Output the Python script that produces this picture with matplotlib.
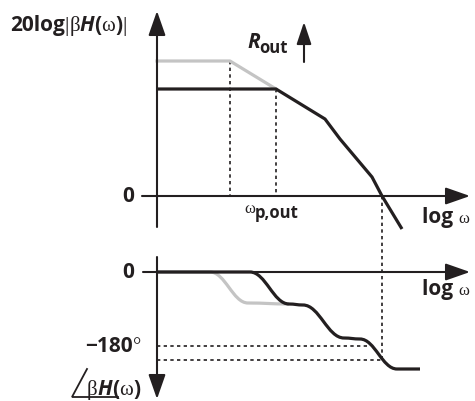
import matplotlib
matplotlib.use("Agg")
import matplotlib.pyplot as plt
from matplotlib.path import Path
from matplotlib.patches import PathPatch
from matplotlib.font_manager import FontProperties

INK = "#231f20"
GRAY = "#c4c4c4"

# schematic drawn in pixel units (y grows downward)
# magnitude plot
mag_x = [157, 276, 325, 340, 372, 382, 402]
mag_y = [90, 90, 120, 140, 178, 197, 230]
mag_gray_x = [157, 230, 276]
mag_gray_y = [62, 62, 90]

# phase plot knots, joined by smooth S-shaped steps
phase_x = [157, 250, 289, 303, 344, 360, 397, 420]
phase_y = [273, 273, 305, 306, 339, 340, 370, 370]
phase_gray_x = [157, 210, 248, 289]
phase_gray_y = [273, 273, 304, 305]

axis_x = 157
mag_zero = 197
ph_zero = 273
ph_180 = 347
ph_cross = 361


def s_curve(xs, ys, k=0.4):
    verts = [(xs[0], ys[0])]
    codes = [Path.MOVETO]
    for x0, y0, x1, y1 in zip(xs[:-1], ys[:-1], xs[1:], ys[1:]):
        dx = (x1 - x0) * k
        verts += [(x0 + dx, y0), (x1 - dx, y1), (x1, y1)]
        codes += [Path.CURVE4] * 3
    return Path(verts, codes)


def arrow(ax, start, tip, hl=1.0, hw=0.35):
    ax.annotate("", xy=tip, xytext=start,
                arrowprops=dict(arrowstyle=f"-|>,head_length={hl},head_width={hw}",
                                mutation_scale=15, lw=1.5, color=INK,
                                shrinkA=0, shrinkB=0))


def seq_text(ax, x, y, pieces, renderer):
    for s, fp, dy in pieces:
        t = ax.text(x, y + dy, s, fontproperties=fp, color=INK, va="baseline", ha="left")
        x += t.get_window_extent(renderer).width


fig = plt.figure(figsize=(4.75, 4.02), dpi=100)
ax = fig.add_axes([0, 0, 1, 1])
ax.set_xlim(0, 475)
ax.set_ylim(402, 0)
ax.axis("off")
renderer = fig.canvas.get_renderer()

# axes
arrow(ax, (axis_x, 228), (axis_x, 12))
arrow(ax, (142, mag_zero), (470, mag_zero))
arrow(ax, (axis_x, 258), (axis_x, 400))
arrow(ax, (143, ph_zero), (470, ph_zero))
arrow(ax, (304, 63), (304, 23), hl=0.9, hw=0.3)

# dotted guides
dot = dict(color=INK, lw=1.2, ls=(0, (2, 2)))
ax.plot([mag_gray_x[1]] * 2, [mag_gray_y[1], mag_zero], **dot)
ax.plot([mag_x[1]] * 2, [mag_y[1], mag_zero], **dot)
ax.plot([mag_x[5]] * 2, [mag_zero, ph_cross], **dot)
ax.plot([axis_x, 368], [ph_180, ph_180], **dot)
ax.plot([axis_x, mag_x[5]], [ph_cross, ph_cross], **dot)

# magnitude curves
ax.plot(mag_gray_x, mag_gray_y, color=GRAY, lw=2.3, solid_joinstyle="round")
ax.plot(mag_x, mag_y, color=INK, lw=2.3, solid_joinstyle="round", solid_capstyle="butt")

# phase curves
ax.add_patch(PathPatch(s_curve(phase_gray_x, phase_gray_y), fc="none", ec=GRAY, lw=2.3))
ax.add_patch(PathPatch(s_curve(phase_x, phase_y), fc="none", ec=INK, lw=2.3))

# fonts
SANS = "Open Sans"
bold = FontProperties(family=SANS, weight="bold", size=15)
bold_s = FontProperties(family=SANS, weight="bold", size=12)
bold_it = FontProperties(family=SANS, weight="bold", style="italic", size=15)
serif = FontProperties(family="Liberation Serif", size=15)
bar = FontProperties(family="Liberation Serif", size=16)
serif_s = FontProperties(family="Liberation Serif", size=12)

seq_text(ax, 10, 31, [("20log", bold, 0), ("|", bar, 0), ("β", serif, 0),
                      ("H", bold_it, 0), ("(", bold, 0), ("ω", serif, 0),
                      (")", bold, 0), ("|", bar, 0)], renderer)
seq_text(ax, 247, 48, [("R", bold_it, 0), ("out", bold_s, 5)], renderer)
seq_text(ax, 244, 213, [("ω", serif_s, 0), ("p,out", bold_s, 5)], renderer)
seq_text(ax, 422, 223, [("log ", bold, 0), ("ω", serif_s, 0)], renderer)
seq_text(ax, 422, 295, [("log ", bold, 0), ("ω", serif_s, 0)], renderer)
ax.text(128, mag_zero, "0", fontproperties=bold, color=INK, ha="center", va="center")
ax.text(128, ph_zero, "0", fontproperties=bold, color=INK, ha="center", va="center")
seq_text(ax, 85, 352, [("\u2212180", bold, 0), ("°", serif, 0)], renderer)
seq_text(ax, 87, 395, [("β", serif, 0), ("H", bold_it, 0), ("(", bold, 0),
                       ("ω", serif, 0), (")", bold, 0)], renderer)
# angle sign
ax.plot([87, 72, 118], [370, 398, 398], color=INK, lw=1.3, solid_joinstyle="miter")

fig.savefig("out.png", dpi=100)
